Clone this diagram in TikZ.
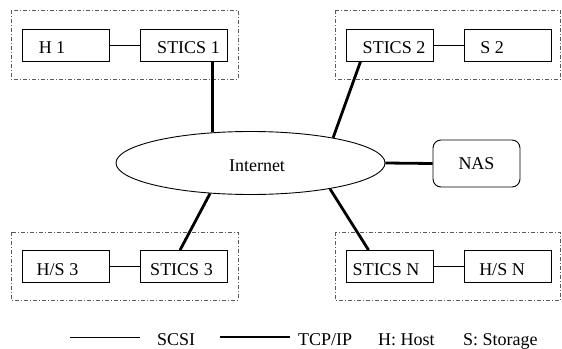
\documentclass[tikz,border=0pt]{standalone}
\usepackage{fontspec}
\setmainfont{Liberation Serif}
\usetikzlibrary{shapes.geometric}
\begin{document}
\begin{tikzpicture}[x=1pt,y=-1pt,
 font=\fontsize{18}{20}\selectfont,
 box/.style={draw,line width=0.9pt,minimum width=87pt,minimum height=32pt,inner sep=0pt},
 grp/.style={draw=black!65,line width=0.9pt,dash pattern=on 4pt off 2pt on 1pt off 2pt},
 scsi/.style={line width=0.9pt},
 tcp/.style={line width=2.8pt},
 lbl/.style={anchor=base,inner sep=0pt},
 leg/.style={anchor=base west,inner sep=0pt}]
\useasboundingbox (0,0) rectangle (562,348);
% groups
\draw[grp] (11,10) rectangle (238,79);
\draw[grp] (335,10) rectangle (560.5,79);
\draw[grp] (11,232) rectangle (238,300);
\draw[grp] (335,232) rectangle (560.5,300);
% boxes
\node[box] (h1) at (65.5,45) {};
\node[box] (s1) at (184,45) {};
\node[box] (s2) at (389.5,45) {};
\node[box] (st2) at (508,45) {};
\node[box] (hs3) at (65.5,266.5) {};
\node[box] (s3) at (184,266.5) {};
\node[box] (sn) at (389.5,266.5) {};
\node[box] (hsn) at (508,266.5) {};
\node[lbl] (th1) at (52,53.5) {H 1};
\node[lbl] (ts1) at (188.5,53.5) {STICS 1};
\node[lbl] (ts2) at (394,53.5) {STICS 2};
\node[lbl] (tst2) at (492,53.5) {S 2};
\node[lbl] (ths3) at (57.5,275) {H/S 3};
\node[lbl] (ts3) at (181.5,275) {STICS 3};
\node[lbl] (tsn) at (386,275) {STICS N};
\node[lbl] (thsn) at (502,275) {H/S N};
% internet and NAS
\node[draw,ellipse,line width=0.9pt,minimum width=269pt,minimum height=63pt,inner sep=0pt] (inet) at (250.5,163) {};
\node[lbl] (tinet) at (257,171.7) {Internet};
\node[draw,rounded corners=8pt,line width=0.9pt,minimum width=87pt,minimum height=47pt,inner sep=0pt] (nas) at (476.5,163.5) {NAS};
% SCSI links
\draw[scsi] (h1) -- (s1);
\draw[scsi] (s2) -- (st2);
\draw[scsi] (hs3) -- (s3);
\draw[scsi] (sn) -- (hsn);
% TCP/IP links
\draw[tcp] (s1.south -| inet.141.9) -- (inet.141.9);
\draw[tcp] ([xshift=15pt]s2.south west) -- (inet.17.7);
\draw[tcp] ([xshift=40pt]s3.north west) -- (inet.217.3);
\draw[tcp] ([xshift=23pt]sn.north west) -- (inet.342.9);
\draw[tcp] (inet.east) -- (nas.west);
% legend
\coordinate (la) at (70,337);
\coordinate (lb) at (140,337);
\coordinate (lc) at (220,337);
\coordinate (ld) at (290,337);
\draw[scsi] (la) -- (lb);
\draw[tcp] (lc) -- (ld);
\node[leg] (l1) at (157,345) {SCSI};
\node[leg] (l2) at (298,345) {TCP/IP};
\node[leg] (l3) at (378,345) {H: Host};
\node[leg] (l4) at (463,345) {S: Storage};
\end{tikzpicture}
\end{document}
